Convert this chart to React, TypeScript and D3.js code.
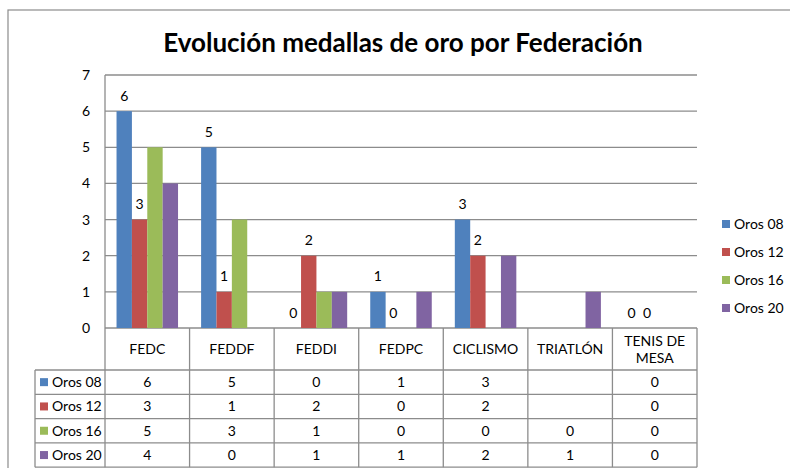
import React from "react";
import * as d3 from "d3";

const categories = ["FEDC", "FEDDF", "FEDDI", "FEDPC", "CICLISMO", "TRIATLÓN", "TENIS DE MESA"];
const seriesNames = ["Oros 08", "Oros 12", "Oros 16", "Oros 20"];
const oros08: (number | null)[] = [6, 5, 0, 1, 3, null, 0];
const oros12: (number | null)[] = [3, 1, 2, 0, 2, null, 0];
const oros16: (number | null)[] = [5, 3, 1, 0, 0, 0, 0];
const oros20: (number | null)[] = [4, 0, 1, 1, 2, 1, 0];
const yTicks = [0, 1, 2, 3, 4, 5, 6, 7];
const labeledSeries = [0, 1];
const colors = ["#4F81BD", "#C0504D", "#9BBB59", "#8064A2"];
const title = "Evolución medallas de oro por Federación";

const FONT = "Lato, 'Open Sans', sans-serif";

export default function App() {
  const series = [oros08, oros12, oros16, oros20];
  const W = 790, H = 468;
  const left = 105, right = 697, top = 75, bottom = 328;
  const headerBottom = 370;
  const rowH = 24.3;
  const legendColLeft = 35;

  const x = d3.scaleBand<string>().domain(categories).range([left, right]).padding(0);
  const cw = x.bandwidth();
  const bw = cw / 5.5;
  const inner = d3.scaleBand<string>().domain(seriesNames).range([0.75 * bw, cw - 0.75 * bw]).padding(0);
  const y = d3.scaleLinear().domain([0, 7]).range([bottom, top]);
  const grid = "#8c8c8c";

  const rowTops = seriesNames.map((_, i) => headerBottom + i * rowH);
  const tableBottom = headerBottom + seriesNames.length * rowH;

  return (
    <svg width={W} height={H} style={{ position: "absolute", left: 0, top: 0 }} fontFamily={FONT}>
      <rect x={0} y={0} width={W} height={H} fill="#fff" />
      <rect x={8} y={10} width={W + 10} height={H + 10} fill="none" stroke={grid} strokeWidth={1.2} />
      <text x={403} y={52} textAnchor="middle" fontSize={26} fontWeight={700} fill="#000">{title}</text>

      {yTicks.map((t) => (
        <g key={t}>
          <line x1={left} x2={right} y1={y(t)} y2={y(t)} stroke={grid} strokeWidth={1.3} />
          <text x={90} y={y(t) + 5} textAnchor="end" fontSize={14} fill="#000">{t}</text>
        </g>
      ))}
      <line x1={left} x2={left} y1={top} y2={tableBottom} stroke={grid} strokeWidth={1.3} />

      {series.map((vals, si) =>
        vals.map((v, ci) =>
          v === null ? null : (
            <rect
              key={`${si}-${ci}`}
              x={(x(categories[ci]) as number) + (inner(seriesNames[si]) as number)}
              y={y(v)}
              width={inner.bandwidth()}
              height={y(0) - y(v)}
              fill={colors[si]}
            />
          )
        )
      )}

      {labeledSeries.map((si) =>
        series[si].map((v, ci) =>
          v === null ? null : (
            <text
              key={`l${si}-${ci}`}
              x={(x(categories[ci]) as number) + (inner(seriesNames[si]) as number) + inner.bandwidth() / 2}
              y={y(v) - 10.5}
              textAnchor="middle"
              fontSize={14}
              fill="#000"
            >
              {v}
            </text>
          )
        )
      )}

      {/* table */}
      {categories.map((c, ci) => (
        <line key={`v${ci}`} x1={(x(c) as number) + cw} x2={(x(c) as number) + cw} y1={bottom} y2={tableBottom} stroke={grid} strokeWidth={1.3} />
      ))}
      <line x1={legendColLeft} x2={legendColLeft} y1={headerBottom} y2={tableBottom} stroke={grid} strokeWidth={1.3} />
      {rowTops.map((ry, i) => (
        <line key={`h${i}`} x1={legendColLeft} x2={right} y1={ry} y2={ry} stroke={grid} strokeWidth={1.3} />
      ))}
      <line x1={legendColLeft} x2={right} y1={tableBottom} y2={tableBottom} stroke={grid} strokeWidth={1.3} />

      {categories.map((c, ci) => {
        const words = c.split(" ");
        const lines = c.length > 10 ? [words.slice(0, 2).join(" "), words.slice(2).join(" ")] : [c];
        const cx = (x(c) as number) + cw / 2;
        const cy = (bottom + headerBottom) / 2;
        return (
          <text key={`c${ci}`} x={cx} textAnchor="middle" fontSize={14} fill="#000">
            {lines.map((ln, li) => (
              <tspan key={li} x={cx} y={cy + 5 + (li - (lines.length - 1) / 2) * 17}>{ln}</tspan>
            ))}
          </text>
        );
      })}

      {seriesNames.map((s, si) => (
        <g key={`r${si}`}>
          <rect x={40} y={rowTops[si] + rowH / 2 - 4} width={8} height={8} fill={colors[si]} />
          <text x={52} y={rowTops[si] + rowH / 2 + 5} fontSize={14} fill="#000">{s}</text>
          {series[si].map((v, ci) =>
            v === null ? null : (
              <text key={ci} x={(x(categories[ci]) as number) + cw / 2} y={rowTops[si] + rowH / 2 + 5} textAnchor="middle" fontSize={14} fill="#000">
                {v}
              </text>
            )
          )}
        </g>
      ))}

      {/* legend */}
      {seriesNames.map((s, si) => (
        <g key={`lg${si}`}>
          <rect x={722} y={224 + si * 28 - 4} width={8} height={8} fill={colors[si]} />
          <text x={734} y={224 + si * 28 + 5} fontSize={14} fill="#000">{s}</text>
        </g>
      ))}
    </svg>
  );
}
